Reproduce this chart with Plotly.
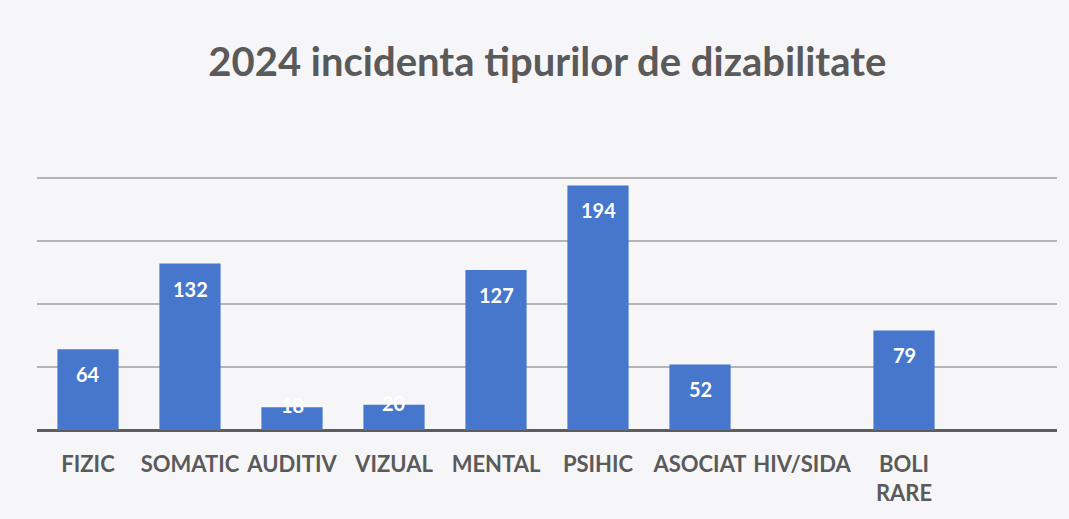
import plotly.graph_objects as go

categories = ["FIZIC", "SOMATIC", "AUDITIV", "VIZUAL", "MENTAL", "PSIHIC", "ASOCIAT", "HIV/SIDA", "BOLI<br>RARE"]
values = [64, 132, 18, 20, 127, 194, 52, 0, 79]
labels = ["64", "132", "18", "20", "127", "194", "52", "", "79"]
title_text = "2024 incidenta tipurilor de dizabilitate"

BG = "#f6f6f8"
xs = list(range(len(categories)))

fig = go.Figure()
fig.add_trace(go.Bar(
    x=xs,
    y=values,
    marker=dict(color="#4677CC", line=dict(width=0)),
    width=0.6,
    hoverinfo="skip",
))

# data labels, Excel-style "inside end" (short bars overflow upward, white on white)
for xi, v, lab in zip(xs, values, labels):
    if not lab:
        continue
    fig.add_annotation(
        x=xi, y=v, xref="x", yref="y",
        text=lab, showarrow=False,
        yanchor="middle", xanchor="center",
        yshift=-25 if v >= 40 else 2,
        font=dict(family="Lato", size=20, color="white", weight="bold"),
    )

fig.update_layout(
    width=1069, height=519,
    paper_bgcolor=BG,
    plot_bgcolor=BG,
    margin=dict(l=37, r=12, t=176, b=89),
    title=dict(text=title_text, x=0.512, xanchor="center", y=1 - 62 / 519, yanchor="middle",
               font=dict(family="Lato", size=40, color="#5a5a5a", weight="bold")),
    showlegend=False,
    xaxis=dict(
        tickmode="array",
        tickvals=xs,
        ticktext=categories,
        range=[-0.5, 9.5],
        showgrid=False,
        showline=False,
        zeroline=False,
        ticks="",
        ticklabelstandoff=19,
        tickfont=dict(family="Lato", size=22, color="#5a5a5a", weight="bold"),
    ),
    yaxis=dict(
        range=[0, 201.5],
        tickmode="array",
        tickvals=[50, 100, 150, 200],
        showticklabels=False,
        showgrid=True,
        gridcolor="#b4b4b4",
        gridwidth=1.5,
        zeroline=True,
        zerolinecolor="#5d5d5d",
        zerolinewidth=3,
        showline=False,
    ),
)

fig.write_html("out.html", config={"displayModeBar": False},
               post_script="document.body.style.margin='0';")
